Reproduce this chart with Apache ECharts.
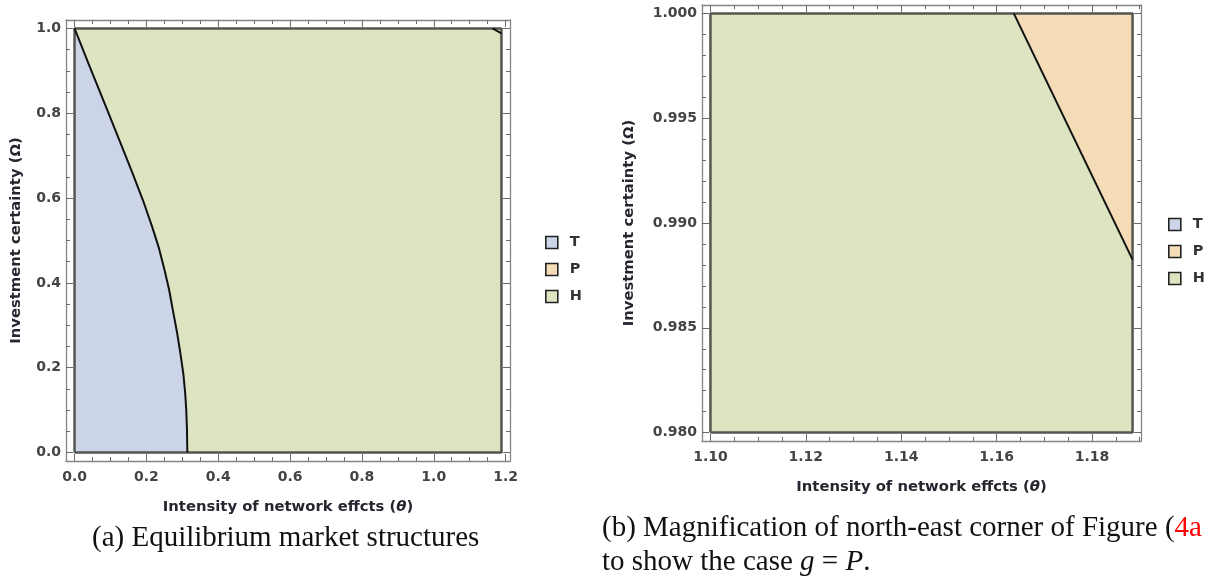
<!DOCTYPE html>
<html>
<head>
<meta charset="utf-8">
<script src="https://cdn.jsdelivr.net/npm/echarts@6/dist/echarts.min.js"></script>
<style>
  html, body { margin: 0; padding: 0; background: #fff; }
  #box { width: 1213px; height: 577px; }
</style>
</head>
<body>
<div id="box"></div>
<script>
// plotted ranges of the two panels
var thetaRangeA = [0, 1.1885];
var omegaRangeA = [0, 1];
var thetaRangeB = [1.10, 1.1885];
var omegaRangeB = [0.98, 1.0];

// boundary between T and H
var tBoundaryTheta = [0, 0.04, 0.08, 0.12, 0.16, 0.19, 0.215, 0.235, 0.25, 0.263, 0.275, 0.286, 0.295, 0.303, 0.308, 0.311, 0.313, 0.314];
var tBoundaryOmega = [1.0, 0.915, 0.831, 0.747, 0.662, 0.596, 0.535, 0.482, 0.432, 0.385, 0.330, 0.280, 0.232, 0.185, 0.140, 0.100, 0.055, 0];

// boundary between P and H (north-east corner)
var pBoundaryTheta = [1.1636, 1.1885];
var pBoundaryOmega = [1.0, 0.98825];

// ticks
var xTicksA = [0, 0.2, 0.4, 0.6, 0.8, 1.0, 1.2];
var xLabelsA = ['0.0', '0.2', '0.4', '0.6', '0.8', '1.0', '1.2'];
var yTicksA = [0, 0.2, 0.4, 0.6, 0.8, 1.0];
var yLabelsA = ['0.0', '0.2', '0.4', '0.6', '0.8', '1.0'];
var xTicksB = [1.10, 1.12, 1.14, 1.16, 1.18];
var xLabelsB = ['1.10', '1.12', '1.14', '1.16', '1.18'];
var yTicksB = [0.980, 0.985, 0.990, 0.995, 1.000];
var yLabelsB = ['0.980', '0.985', '0.990', '0.995', '1.000'];

var regionNames = ['T', 'P', 'H'];
var regionColors = ['#ccd5e8', '#f4dcb6', '#dce4c1'];

var myChart = echarts.init(document.getElementById('box'));

// mathematica pads the frame by 2% on each side
function padded(r) {
    var d = (r[1] - r[0]) * 0.02;
    return [r[0] - d, r[1] + d];
}

// minor ticks: subdivide the majors
function minorTicks(majors, n, lim) {
    var out = [];
    var step = (majors[1] - majors[0]) / n;
    var v = majors[0];
    while (v <= lim[1] + 1e-12) {
        out.push(+v.toFixed(6));
        v += step;
    }
    return out;
}

var labelFont = { color: '#444', fontWeight: 'bold', fontSize: 14, fontFamily: 'DejaVu Sans' };
var titleFont = { color: '#262630', fontWeight: 'bold', fontSize: 14.8, fontFamily: 'DejaVu Sans' };

// four axes per side pair: main (line + major ticks + labels), minor ticks, mirrored main, mirrored minor
function frameAxes(dim, gridIndex, range, majors, labels, nMinor, name, nameGap) {
    var lim = padded(range);
    var minors = minorTicks(majors, nMinor, lim);
    var pos = dim === 'x' ? ['bottom', 'top'] : ['left', 'right'];
    var base = {
        type: 'value', gridIndex: gridIndex, min: lim[0], max: lim[1],
        splitLine: { show: false }
    };
    function ax(p, major, first) {
        return Object.assign({}, base, {
            position: p,
            axisLine: { show: major, onZero: false, lineStyle: { color: '#858585', width: 1.3 } },
            axisTick: { show: true, inside: true, length: major ? 7 : 4, customValues: major ? majors : minors,
                lineStyle: { color: '#6a6a6a', width: 1 } },
            axisLabel: first ? Object.assign({
                show: true, customValues: majors, margin: dim === 'x' ? 9 : 5,
                formatter: function (v) {
                    for (var i = 0; i < majors.length; i++) {
                        if (Math.abs(majors[i] - v) < 1e-9) return labels[i];
                    }
                    return '';
                }
            }, labelFont) : { show: false },
            name: first ? name : '',
            nameLocation: 'middle',
            nameGap: nameGap,
            nameRotate: dim === 'y' ? 90 : 0,
            nameTextStyle: Object.assign({ rich: { i: Object.assign({}, titleFont, { fontStyle: 'italic' }) } }, titleFont)
        });
    }
    return [ax(pos[0], true, true), ax(pos[0], false, false), ax(pos[1], true, false), ax(pos[1], false, false)];
}

var xTitle = 'Intensity of network effcts ({i|θ})';
var yTitle = 'Investment certainty (Ω)';

var xAxes = frameAxes('x', 0, thetaRangeA, xTicksA, xLabelsA, 4, xTitle, 39)
    .concat(frameAxes('x', 1, thetaRangeB, xTicksB, xLabelsB, 4, xTitle, 39));
var yAxes = frameAxes('y', 0, omegaRangeA, yTicksA, yLabelsA, 4, yTitle, 42)
    .concat(frameAxes('y', 1, omegaRangeB, yTicksB, yLabelsB, 5, yTitle, 65));

function zipPts(xs, ys) {
    return xs.map(function (x, i) { return [x, ys[i]]; });
}
function rectPts(xr, yr) {
    return [[xr[0], yr[0]], [xr[1], yr[0]], [xr[1], yr[1]], [xr[0], yr[1]]];
}

var tPolygon = zipPts(tBoundaryTheta, tBoundaryOmega).concat([[0, 0]]);
var pPolygon = zipPts(pBoundaryTheta, pBoundaryOmega).concat([[pBoundaryTheta[1], pBoundaryOmega[0]]]);

function regionSeries(name, panel, pts, z) {
    return {
        type: 'custom', name: name, xAxisIndex: panel * 4, yAxisIndex: panel * 4,
        clip: true, silent: true, z: z,
        itemStyle: { color: regionColors[regionNames.indexOf(name)] },
        data: [0],
        renderItem: function (params, api) {
            return {
                type: 'polygon',
                shape: { points: pts.map(function (p) { return api.coord(p); }) },
                style: { fill: api.visual('color') }
            };
        }
    };
}

function lineSeries(panel, pts, color, width, z) {
    return {
        type: 'line', xAxisIndex: panel * 4, yAxisIndex: panel * 4,
        data: pts, showSymbol: false, silent: true, clip: true, z: z,
        lineStyle: { color: color, width: width }
    };
}

var series = [];
var ranges = [[thetaRangeA, omegaRangeA], [thetaRangeB, omegaRangeB]];
ranges.forEach(function (r, panel) {
    var box = rectPts(r[0], r[1]);
    series.push(regionSeries('H', panel, box, 1));
    series.push(regionSeries('T', panel, tPolygon, 2));
    series.push(regionSeries('P', panel, pPolygon, 2));
    series.push(lineSeries(panel, box.concat([box[0]]), '#55554f', 2.5, 3));
    series.push(lineSeries(panel, zipPts(tBoundaryTheta, tBoundaryOmega), '#111', 2, 4));
    series.push(lineSeries(panel, zipPts(pBoundaryTheta, pBoundaryOmega), '#111', 2, 4));
});

function legendAt(left, top) {
    return {
        data: regionNames, orient: 'vertical', left: left, top: top,
        icon: 'rect', itemWidth: 12, itemHeight: 12, itemGap: 12,
        selectedMode: false,
        itemStyle: { borderColor: '#222', borderWidth: 1.6 },
        textStyle: { color: '#333', fontWeight: 'bold', fontSize: 14.5, fontFamily: 'DejaVu Sans', padding: [0, 0, 0, 7] }
    };
}

var capFont = { fontFamily: 'Liberation Serif', fontSize: 29, fill: '#111' };

var option = {
    backgroundColor: '#fff',
    animation: false,
    grid: [
        { left: 66, top: 20, width: 444, height: 441 },
        { left: 702, top: 5, width: 439, height: 436 }
    ],
    xAxis: xAxes,
    yAxis: yAxes,
    legend: [legendAt(540, 230), legendAt(1163, 212)],
    series: series,
    graphic: [
        {
            type: 'text', left: 92, top: 524,
            style: Object.assign({ text: '(a) Equilibrium market structures' }, capFont)
        },
        {
            type: 'text', left: 602, top: 514,
            style: Object.assign({
                text: '(b) Magnification of north-east corner of Figure ({r|4a}',
                rich: { r: Object.assign({}, capFont, { fill: '#ff0000' }) }
            }, capFont)
        },
        {
            type: 'text', left: 602, top: 548,
            style: Object.assign({
                text: 'to show the case {i|g} = {i|P}.',
                rich: { i: Object.assign({}, capFont, { fontStyle: 'italic' }) }
            }, capFont)
        }
    ]
};

myChart.setOption(option);
</script>
</body>
</html>
